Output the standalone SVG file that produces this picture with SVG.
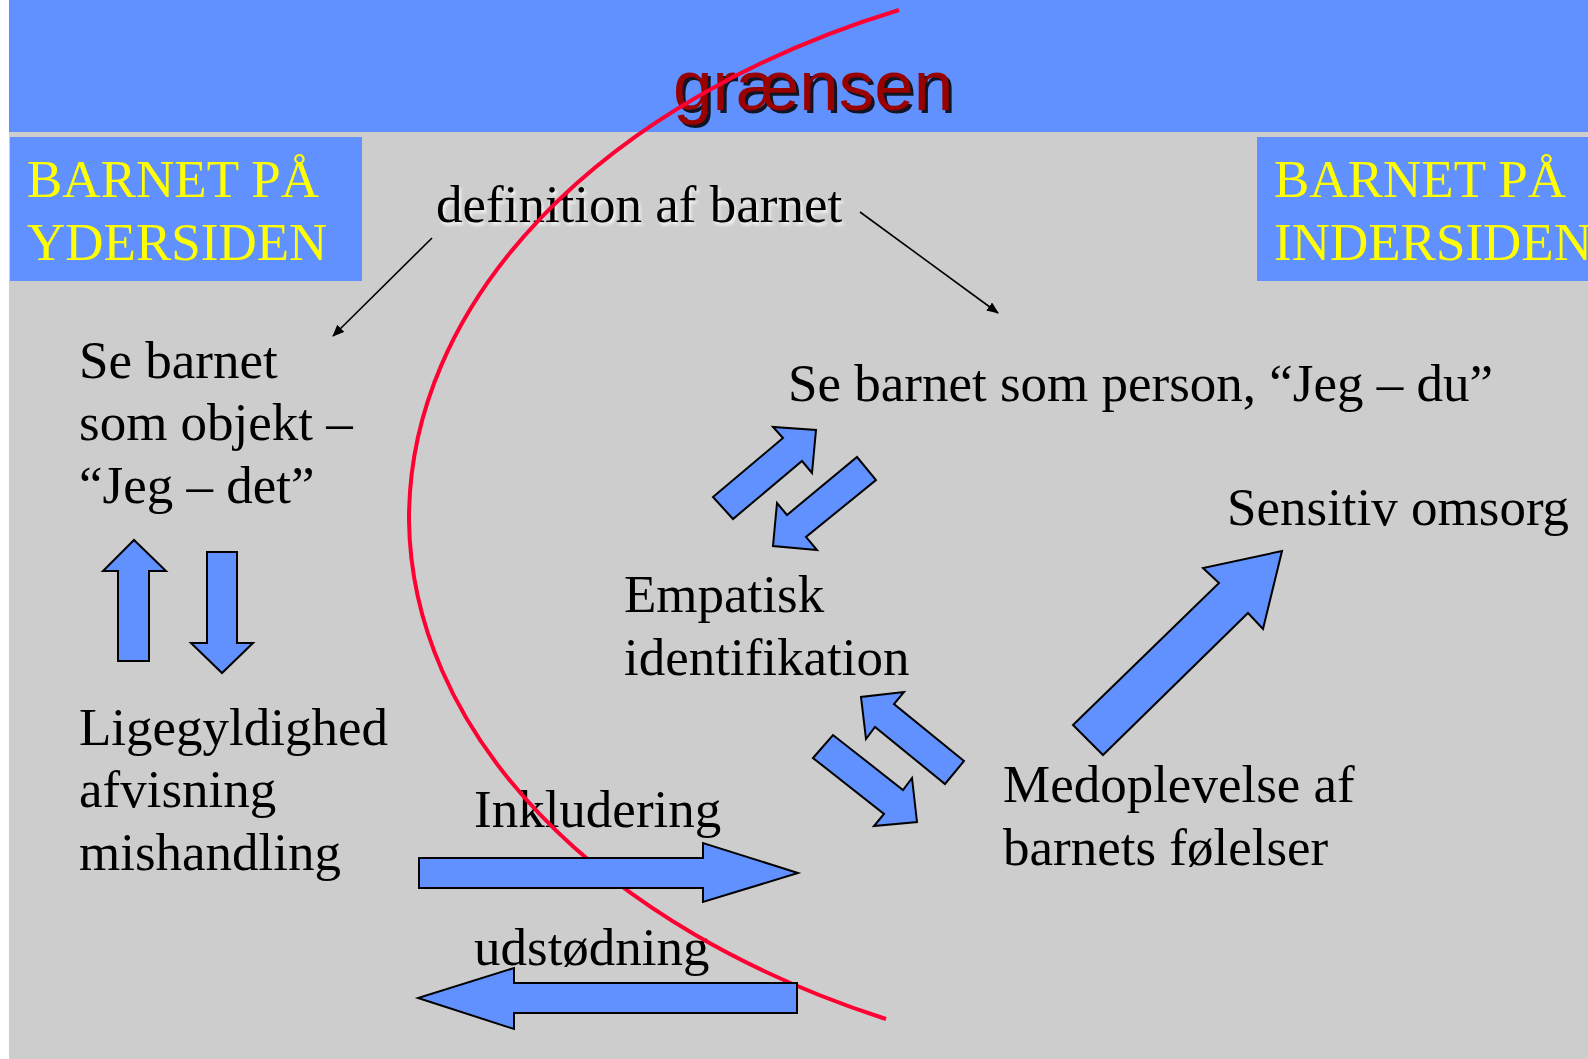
<svg xmlns="http://www.w3.org/2000/svg" width="1588" height="1059" viewBox="0 0 1588 1059">
  <style>
    .t { font-family: "Liberation Serif", "Times New Roman", serif; font-size: 53px; fill: #000; }
    .y { font-family: "Liberation Serif", "Times New Roman", serif; font-size: 53px; fill: #FFFF00; }
    .blk { fill: #6190FF; stroke: none; }
    .arr { fill: #6190FF; stroke: #000; stroke-width: 2; stroke-linejoin: miter; }
    .thin { stroke: #000; stroke-width: 1.6; fill: none; marker-end: url(#ah); }
  </style>
  <defs>
    <marker id="ah" viewBox="0 0 12 10" refX="11" refY="5" markerWidth="12" markerHeight="10" markerUnits="userSpaceOnUse" orient="auto">
      <path d="M0,0 L12,5 L0,10 Z" fill="#000"/>
    </marker>
    <filter id="glow" x="-5%" y="-20%" width="110%" height="140%">
      <feGaussianBlur stdDeviation="1.5"/>
    </filter>
  </defs>

  <rect x="0" y="0" width="1588" height="1059" fill="#FFFFFF"/>
  <rect x="9" y="0" width="1579" height="1059" fill="#CDCDCD"/>

  <g id="header">
    <rect class="blk" x="9" y="0" width="1579" height="132"/>
    <text x="676" y="113" font-family="'Liberation Sans', Arial, sans-serif" font-size="71" fill="#000" opacity="0.85">grænsen</text>
    <text x="673" y="110" font-family="'Liberation Sans', Arial, sans-serif" font-size="71" fill="#990000">grænsen</text>
  </g>

  <g id="box-ydersiden">
    <rect class="blk" x="10" y="137" width="352" height="144"/>
    <text class="y" x="27" y="197">BARNET PÅ</text>
    <text class="y" x="27" y="260">YDERSIDEN</text>
  </g>

  <g id="box-indersiden">
    <rect class="blk" x="1257" y="137" width="331" height="144"/>
    <text class="y" x="1274" y="197">BARNET PÅ</text>
    <text class="y" x="1274" y="260">INDERSIDEN</text>
  </g>

  <g id="definition">
    <text class="t" x="438" y="225" style="fill:#F4F4F4" filter="url(#glow)">definition af barnet</text>
    <text class="t" x="436" y="222">definition af barnet</text>
  </g>

  <g id="objekt">
    <text class="t" x="79" y="378">Se barnet</text>
    <text class="t" x="79" y="440">som objekt –</text>
    <text class="t" x="79" y="503">“Jeg – det”</text>
  </g>

  <g id="ligegyldighed">
    <text class="t" x="79" y="745">Ligegyldighed</text>
    <text class="t" x="79" y="807">afvisning</text>
    <text class="t" x="79" y="870">mishandling</text>
  </g>

  <g id="person">
    <text class="t" x="788" y="401">Se barnet som person, “Jeg – du”</text>
  </g>

  <g id="sensitiv">
    <text class="t" x="1227" y="525">Sensitiv omsorg</text>
  </g>

  <g id="empatisk">
    <text class="t" x="624" y="612">Empatisk</text>
    <text class="t" x="624" y="675">identifikation</text>
  </g>

  <g id="medoplevelse">
    <text class="t" x="1003" y="802">Medoplevelse af</text>
    <text class="t" x="1003" y="865">barnets følelser</text>
  </g>

  <g id="inkludering-label">
    <text class="t" x="474" y="827">Inkludering</text>
  </g>

  <g id="udstodning-label">
    <text class="t" x="474" y="965">udstødning</text>
  </g>

  <g id="graensen-curve">
    <path d="M 899 10 A 840 560 0 0 0 409 520 A 850 560 0 0 0 886 1019" fill="none" stroke="#FF0033" stroke-width="4"/>
  </g>

  <g id="connectors">
    <line class="thin" x1="432" y1="238" x2="333" y2="336"/>
    <line class="thin" x1="860" y1="212" x2="998" y2="313"/>
    <polygon class="arr" points="118,661 118,571 103,571 134,540 166,571 149,571 149,661"/>
    <polygon class="arr" points="207,552 237,552 237,643 253,643 222,673 191,643 207,643"/>
    <polygon class="arr" points="713,497 783,438 773,427 816,430 812,473 802,461 733,519"/>
    <polygon class="arr" points="857,457 876,480 806,537 817,550 773,546 777,503 787,515"/>
    <polygon class="arr" points="964,761 894,704 904,692 861,697 866,739 875,727 945,784"/>
    <polygon class="arr" points="813,758 833,735 903,790 912,778 917,822 874,826 884,814"/>
    <polygon class="arr" points="1073,725 1219,583 1203,568 1282,551 1263,629 1248,613 1103,755"/>
    <polygon class="arr" points="419,858 703,858 703,843 798,873 703,902 703,888 419,888"/>
    <polygon class="arr" points="797,983 514,983 514,968 418,998 514,1029 514,1013 797,1013"/>
  </g>
</svg>
